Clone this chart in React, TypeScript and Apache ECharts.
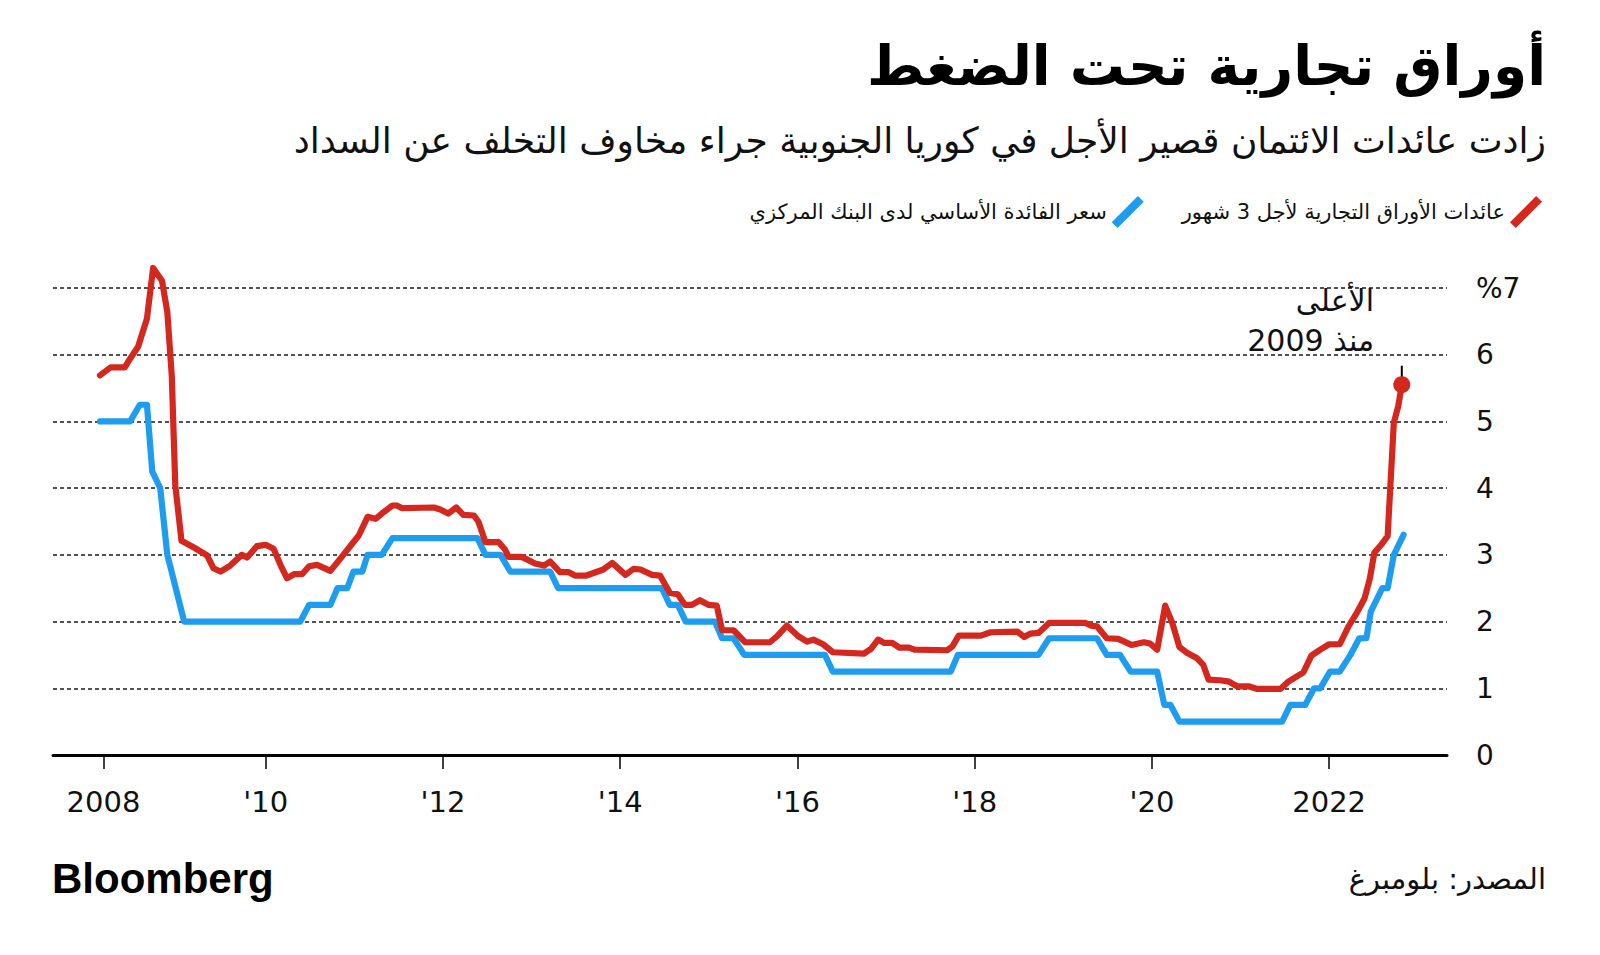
import React, { useEffect, useRef } from 'react';
import * as echarts from 'echarts';

// ---- Texts ----
const TITLE = 'أوراق تجارية تحت الضغط';
const SUBTITLE = 'زادت عائدات الائتمان قصير الأجل في كوريا الجنوبية جراء مخاوف التخلف عن السداد';
const CP_NAME = 'عائدات الأوراق التجارية لأجل 3 شهور';
const BASE_NAME = 'سعر الفائدة الأساسي لدى البنك المركزي';
const NOTE_LINE_1 = 'الأعلى';
const NOTE_LINE_2 = 'منذ 2009';
const SOURCE = 'المصدر: بلومبرغ';
const LOGO = 'Bloomberg';

// ---- Axis ticks ----
const xTickValues = [2008.17, 2010, 2012, 2014, 2016, 2018, 2020, 2022];
const xTickLabels = ['2008', "'10", "'12", "'14", "'16", "'18", "'20", '2022'];
const yTickLabels = ['0', '1', '2', '3', '4', '5', '6', '%7'];

// ---- 3-month commercial paper yield (%), by decimal year ----
const cpYears = [
  2008.13, 2008.25, 2008.41, 2008.47, 2008.56, 2008.66, 2008.73, 2008.83, 2008.89, 2008.94,
  2008.98, 2009.05, 2009.19, 2009.34, 2009.41, 2009.49, 2009.6, 2009.73, 2009.79, 2009.9,
  2010.0, 2010.09, 2010.17, 2010.24, 2010.32, 2010.41, 2010.49, 2010.58, 2010.73, 2010.84,
  2010.96, 2011.05, 2011.15, 2011.24, 2011.33, 2011.43, 2011.48, 2011.54, 2011.9, 2011.97,
  2012.06, 2012.15, 2012.23, 2012.35, 2012.4, 2012.48, 2012.63, 2012.7, 2012.74, 2012.89,
  2013.04, 2013.14, 2013.21, 2013.32, 2013.42, 2013.49, 2013.62, 2013.81, 2013.91, 2014.06,
  2014.15, 2014.23, 2014.36, 2014.45, 2014.56, 2014.65, 2014.73, 2014.81, 2014.9, 2015.0,
  2015.09, 2015.15, 2015.28, 2015.41, 2015.69, 2015.77, 2015.88, 2016.01, 2016.11, 2016.18,
  2016.29, 2016.4, 2016.75, 2016.83, 2016.91, 2016.98, 2017.07, 2017.15, 2017.26, 2017.32,
  2017.69, 2017.75, 2017.82, 2018.07, 2018.18, 2018.48, 2018.56, 2018.63, 2018.72, 2018.84,
  2019.25, 2019.31, 2019.38, 2019.49, 2019.62, 2019.77, 2019.91, 2019.98, 2020.06, 2020.15,
  2020.23, 2020.31, 2020.4, 2020.51, 2020.58, 2020.64, 2020.77, 2020.87, 2020.96, 2021.09,
  2021.19, 2021.45, 2021.54, 2021.71, 2021.8, 2021.9, 2022.0, 2022.12, 2022.22, 2022.32,
  2022.4, 2022.46, 2022.51, 2022.58, 2022.66, 2022.73, 2022.78, 2022.82,
];
const cpYields = [
  5.69, 5.81, 5.81, 5.94, 6.12, 6.54, 7.3, 7.11, 6.64, 5.69,
  4.04, 3.21, 3.11, 2.99, 2.8, 2.75, 2.84, 3.0, 2.96, 3.13,
  3.15, 3.09, 2.84, 2.65, 2.71, 2.71, 2.83, 2.85, 2.76, 2.94,
  3.14, 3.29, 3.57, 3.54, 3.64, 3.74, 3.74, 3.7, 3.71, 3.68,
  3.62, 3.71, 3.6, 3.59, 3.5, 3.19, 3.19, 3.08, 2.97, 2.97,
  2.87, 2.84, 2.9, 2.74, 2.74, 2.69, 2.69, 2.78, 2.88, 2.7,
  2.79, 2.78, 2.7, 2.69, 2.43, 2.41, 2.25, 2.25, 2.32, 2.25,
  2.24, 1.87, 1.87, 1.69, 1.69, 1.78, 1.94, 1.78, 1.7, 1.73,
  1.66, 1.54, 1.52, 1.59, 1.73, 1.68, 1.68, 1.61, 1.61, 1.58,
  1.57, 1.63, 1.79, 1.79, 1.84, 1.85, 1.77, 1.82, 1.83, 1.98,
  1.98, 1.94, 1.93, 1.75, 1.74, 1.65, 1.69, 1.67, 1.58, 2.24,
  1.98, 1.62, 1.53, 1.45, 1.35, 1.13, 1.12, 1.1, 1.03, 1.03,
  0.99, 0.99, 1.1, 1.24, 1.49, 1.58, 1.66, 1.66, 1.93, 2.15,
  2.35, 2.65, 3.03, 3.14, 3.28, 4.98, 5.23, 5.55,
];

// ---- Central bank base rate (%), by decimal year ----
const baseYears = [
  2008.13, 2008.47, 2008.58, 2008.66, 2008.72, 2008.81, 2008.89, 2009.08, 2010.39, 2010.49,
  2010.73, 2010.81, 2010.92, 2010.99, 2011.09, 2011.15, 2011.31, 2011.43, 2012.39, 2012.48,
  2012.65, 2012.76, 2013.21, 2013.3, 2014.47, 2014.56, 2014.65, 2014.74, 2015.07, 2015.15,
  2015.28, 2015.4, 2016.31, 2016.4, 2017.73, 2017.81, 2018.72, 2018.84, 2019.38, 2019.49,
  2019.64, 2019.76, 2020.06, 2020.14, 2020.21, 2020.31, 2021.47, 2021.56, 2021.73, 2021.83,
  2021.9, 2022.01, 2022.12, 2022.24, 2022.34, 2022.42, 2022.47, 2022.6, 2022.66, 2022.73,
  2022.84,
];
const baseRates = [
  5.0, 5.0, 5.25, 5.25, 4.25, 4.0, 3.0, 2.0, 2.0, 2.25,
  2.25, 2.5, 2.5, 2.75, 2.75, 3.0, 3.0, 3.25, 3.25, 3.0,
  3.0, 2.75, 2.75, 2.5, 2.5, 2.25, 2.25, 2.0, 2.0, 1.75,
  1.75, 1.5, 1.5, 1.25, 1.25, 1.5, 1.5, 1.75, 1.75, 1.5,
  1.5, 1.25, 1.25, 0.75, 0.75, 0.5, 0.5, 0.75, 0.75, 1.0,
  1.0, 1.25, 1.25, 1.5, 1.75, 1.75, 2.15, 2.5, 2.5, 3.0,
  3.3,
];

const RED = '#d4281f';
const BLUE = '#1e9cf0';
const INK = '#111111';
const AR_FONT = '"DejaVu Sans", sans-serif';
const NUM_FONT = '"DejaVu Sans", sans-serif';
// 45-degree slash used as legend key
const SLASH = 'path://M1.2,26.2 L26.2,1.2 L31.8,6.8 L6.8,31.8 Z';

export default function App() {
  const ref = useRef<HTMLDivElement>(null);

  useEffect(() => {
    document.body.style.margin = '0';
    const el = ref.current;
    if (!el) return;
    const chart = echarts.init(el, undefined, { renderer: 'svg' });

    const cpData = cpYears.map((x, i) => [x, cpYields[i]]);
    const baseData = baseYears.map((x, i) => [x, baseRates[i]]);
    const last = cpData[cpData.length - 1];

    const xLabel = (v: number) => {
      let best = 0;
      for (let i = 0; i < xTickValues.length; i++) {
        if (Math.abs(xTickValues[i] - v) < Math.abs(xTickValues[best] - v)) best = i;
      }
      return xTickLabels[best];
    };

    chart.setOption({
      animation: false,
      backgroundColor: '#ffffff',
      grid: { left: 53, right: 153, top: 288, bottom: 200, containLabel: false },
      legend: {
        right: 53,
        top: 191,
        align: 'right',
        itemGap: 38,
        itemWidth: 32,
        itemHeight: 32,
        selectedMode: false,
        data: [
          { name: BASE_NAME, icon: SLASH, itemStyle: { color: BLUE, borderWidth: 0 } },
          { name: CP_NAME, icon: SLASH, itemStyle: { color: RED, borderWidth: 0 } },
        ],
        textStyle: { fontSize: 21, fontFamily: AR_FONT, color: INK },
      },
      xAxis: {
        type: 'value',
        min: 2007.6,
        max: 2023.33,
        axisLine: { show: true, onZero: false, lineStyle: { color: '#000', width: 3 } },
        axisTick: {
          show: true,
          customValues: xTickValues,
          length: 14,
          lineStyle: { color: '#000', width: 1.5 },
        },
        axisLabel: {
          customValues: xTickValues,
          formatter: (v: number) => xLabel(v),
          fontSize: 29,
          margin: 32,
          color: INK,
          fontFamily: NUM_FONT,
        },
        splitLine: { show: false },
      },
      yAxis: {
        type: 'value',
        position: 'right',
        min: 0,
        max: 7,
        interval: 1,
        axisLine: { show: false },
        axisTick: { show: false },
        axisLabel: {
          margin: 29,
          fontSize: 28,
          color: INK,
          fontFamily: NUM_FONT,
          formatter: (v: number) => yTickLabels[Math.round(v)],
        },
        splitLine: { show: true, lineStyle: { color: '#1a1a1a', width: 1.5, type: [4, 3] } },
      },
      series: [
        {
          type: 'line',
          name: BASE_NAME,
          data: baseData,
          showSymbol: false,
          symbol: 'none',
          clip: false,
          lineStyle: { color: BLUE, width: 6.2, join: 'round', cap: 'round' },
          itemStyle: { color: BLUE },
          z: 2,
        },
        {
          type: 'line',
          name: CP_NAME,
          data: cpData,
          showSymbol: false,
          symbol: 'none',
          clip: false,
          lineStyle: { color: RED, width: 6.2, join: 'round', cap: 'round' },
          itemStyle: { color: RED },
          z: 3,
        },
        {
          type: 'scatter',
          data: [last],
          symbol: 'circle',
          symbolSize: 17,
          clip: false,
          itemStyle: { color: RED, opacity: 1 },
          silent: true,
          z: 4,
        },
      ],
    });

    const p = chart.convertToPixel({ seriesIndex: 2 }, last) as number[];

    chart.setOption({
      graphic: [
        {
          type: 'text', x: 1546, y: 66,
          style: { text: TITLE, font: `bold 55px ${AR_FONT}`, fill: '#000', align: 'right', verticalAlign: 'middle' },
        },
        {
          type: 'text', x: 1546, y: 140,
          style: { text: SUBTITLE, font: `36px ${AR_FONT}`, fill: INK, align: 'right', verticalAlign: 'middle' },
        },
        {
          type: 'text', x: 1374, y: 300,
          style: { text: NOTE_LINE_1, font: `30px ${AR_FONT}`, fill: INK, align: 'right', verticalAlign: 'middle' },
        },
        {
          type: 'text', x: 1374, y: 340,
          style: { text: NOTE_LINE_2, font: `30px ${AR_FONT}`, fill: INK, align: 'right', verticalAlign: 'middle' },
        },
        {
          type: 'line', z: 1,
          shape: { x1: p[0], y1: p[1] - 19, x2: p[0], y2: p[1] },
          style: { stroke: '#000', lineWidth: 2 },
        },
        {
          type: 'text', x: 52, y: 878,
          style: { text: LOGO, font: `bold 42px "Liberation Sans", Arial, sans-serif`, fill: '#000', align: 'left', verticalAlign: 'middle' },
        },
        {
          type: 'text', x: 1546, y: 879,
          style: { text: SOURCE, font: `29px ${AR_FONT}`, fill: INK, align: 'right', verticalAlign: 'middle' },
        },
      ],
    });

    return () => chart.dispose();
  }, []);

  return <div ref={ref} style={{ width: 1600, height: 955 }} />;
}
